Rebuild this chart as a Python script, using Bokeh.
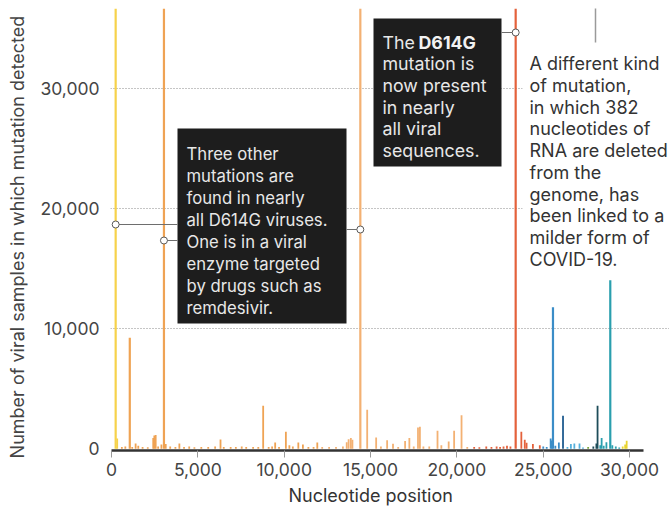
from bokeh.plotting import figure
from bokeh.models import FixedTicker, NumeralTickFormatter, ColumnDataSource, Range1d, Title
from bokeh.core.properties import value
from bokeh.embed import file_html
from bokeh.resources import INLINE

# ---- data ----
positions = [241, 330, 600, 800, 1059, 1200, 1397, 1550, 1800, 2100, 2416, 2480, 2558, 2700, 2891,
             3037, 3140, 3400, 3700, 3930, 4200, 4500, 4800, 5200, 5600, 6000, 6312, 6500, 6900,
             7200, 7540, 7800, 8200, 8500, 8782, 9100, 9300, 9477, 9700, 10097, 10300, 10500,
             10818, 11083, 11400, 11700, 11916, 12200, 12600, 13000, 13400, 13620, 13730, 13860,
             13950, 14408, 14805, 15324, 15600, 15960, 16300, 16600, 17000, 17247, 17500, 17747,
             17858, 18060, 18400, 18877, 19100, 19524, 19839, 20268, 20600, 21000, 21300, 21700,
             22000, 22300, 22500, 22700, 22900, 23100, 23403, 23731, 23929, 24034, 24400, 24800,
             25000, 25200, 25429, 25500, 25563, 25700, 25904, 26144, 26400, 26600, 26800, 27100,
             27300, 27600, 27900, 28077, 28144, 28300, 28380, 28500, 28657, 28881, 29000, 29200,
             29400, 29600, 29742, 29830]
counts = [36700, 850, 150, 200, 9250, 150, 450, 250, 150, 120, 900, 1100, 1150, 200, 350,
          36700, 400, 200, 150, 450, 150, 200, 120, 150, 150, 200, 780, 150, 150,
          150, 200, 150, 150, 150, 3580, 150, 200, 520, 150, 1420, 300, 200,
          520, 350, 150, 150, 520, 150, 150, 150, 200, 550, 800, 900,
          750, 36700, 3250, 950, 200, 720, 420, 150, 640, 890, 200, 1780,
          1830, 200, 200, 1500, 300, 610, 1500, 2800, 150, 150, 120, 200,
          150, 200, 150, 200, 250, 200, 36700, 1420, 750, 500, 400, 300,
          200, 150, 850, 700, 11800, 250, 530, 2750, 150, 400, 450, 450,
          100, 150, 200, 450, 3580, 300, 900, 250, 550, 14050, 300, 200,
          100, 200, 350, 670]
x_ticks = [0, 5000, 10000, 15000, 20000, 25000, 30000]
y_ticks = [0, 10000, 20000, 30000]
y_grid = [10000, 20000, 30000]
highlight_pos = [241, 3037, 14408, 23403]


def color_for(pos):
    if pos < 500:
        return "#f6d24a"
    if pos < 12000:
        return "#efa354"
    if pos < 21000:
        return "#f3b173"
    if pos < 25000:
        return "#e4613b"
    if pos < 26100:
        return "#3b8dc7"
    if pos < 26200:
        return "#1f5c8f"
    if pos < 27400:
        return "#56b0dc"
    if pos < 27800:
        return "#7aa63c"
    if pos < 28300:
        return "#1e4d5a"
    if pos < 29500:
        return "#2a9fae"
    return "#e9d430"


colors = [color_for(p) for p in positions]
widths = [2.2 if c > 5000 else 1.8 for c in counts]
src = ColumnDataSource(dict(x=positions, y0=[0] * len(positions), y1=counts, color=colors, w=widths))

# ---- layout (page pixels == canvas pixels) ----
W, H = 669, 510
FL, FR, FT, FB = 110, 669, 8, 450   # frame edges
X_START, X_END = -58, 32310
Y_START, Y_END = -142, 36700


def dx(px):
    return X_START + (px - FL) * (X_END - X_START) / (FR - FL)


def dy(py):
    return Y_END - (py - FT) * (Y_END - Y_START) / (FB - FT)


p = figure(width=W, height=H, output_backend="svg", toolbar_location=None,
           x_range=Range1d(X_START, X_END), y_range=Range1d(Y_START, Y_END),
           min_border_left=FL, min_border_right=W - FR, min_border_top=FT,
           min_border_bottom=H - FB)
p.outline_line_color = None
p.background_fill_color = "white"
p.border_fill_color = "white"

FONT = "Inter"

# axes
p.xaxis.ticker = FixedTicker(ticks=x_ticks)
p.xaxis.formatter = NumeralTickFormatter(format="0,0")
p.xaxis.bounds = (0, 30800)
p.xaxis.axis_line_color = "#333333"
p.xaxis.axis_line_width = 2.5
p.xaxis.major_tick_line_color = "#9a9a9a"
p.xaxis.major_tick_in = 0
p.xaxis.major_tick_out = 7
p.xaxis.minor_tick_line_color = None
p.xaxis.major_label_text_font = FONT
p.xaxis.major_label_text_font_size = "17.5px"
p.xaxis.major_label_text_color = "#444444"
p.xaxis.major_label_standoff = 5

p.yaxis.ticker = FixedTicker(ticks=y_ticks)
p.yaxis.formatter = NumeralTickFormatter(format="0,0")
p.yaxis.axis_line_color = None
p.yaxis.major_tick_line_color = None
p.yaxis.minor_tick_line_color = None
p.yaxis.major_tick_out = 0
p.yaxis.major_tick_in = 0
p.yaxis.major_label_text_font = FONT
p.yaxis.major_label_text_font_size = "17.5px"
p.yaxis.major_label_text_color = "#444444"
p.yaxis.major_label_standoff = 11
p.yaxis.axis_label = "Number of viral samples in which mutation detected\u00a0\u00a0\u00a0"
p.yaxis.axis_label_text_font = FONT
p.yaxis.axis_label_text_font_size = "18px"
p.yaxis.axis_label_text_font_style = "normal"
p.yaxis.axis_label_text_color = "#444444"
p.yaxis.axis_label_standoff = 9

p.add_layout(Title(text="Nucleotide position", align="left", offset=288 - FL,
                   text_font=FONT, text_font_size="18px", text_font_style="normal",
                   text_color="#333333", standoff=8), "below")

p.xgrid.grid_line_color = None
p.ygrid.ticker = FixedTicker(ticks=y_grid)
p.ygrid.grid_line_color = "#8a8a8a"
p.ygrid.grid_line_dash = "1 2"
p.ygrid.grid_line_width = 1

# white backing behind the right-hand note
p.quad(left=[dx(522)], right=[dx(672)], top=[dy(42)], bottom=[dy(268)],
       fill_color="white", line_color=None)

# bars
p.segment(x0="x", y0="y0", x1="x", y1="y1", source=src, line_color="color",
          line_width="w", line_cap="butt")

# boxes
p.quad(left=[dx(177), dx(373)], right=[dx(346), dx(501)], top=[dy(128), dy(18)],
       bottom=[dy(323), dy(166)], fill_color="#1d1d1d", line_color=None)

# connectors
cx0 = [dx(115), dx(163), dx(346), dx(501)]
cx1 = [dx(177), dx(177), dx(360), dx(516)]
cy = [dy(224), dy(240), dy(229), dy(32)]
p.segment(x0=cx0, y0=cy, x1=cx1, y1=cy, line_color="#6e6e6e", line_width=1)
p.segment(x0=[dx(595)], y0=[dy(6)], x1=[dx(595)], y1=[dy(42)], line_color="#9a9a9a", line_width=1.5)
p.scatter(x=highlight_pos, y=cy, marker="circle", size=7, fill_color="white",
          line_color="#5a5a5a", line_width=1)

# texts
box1 = ["Three other", "mutations are", "found in nearly", "all D614G viruses.",
        "One is in a viral", "enzyme targeted", "by drugs such as", "remdesivir."]
b1y = [153.3, 175.3, 197.4, 219.5, 241.6, 263.7, 285.8, 307.9]
p.text(x=[dx(186)] * len(box1), y=[dy(v) for v in b1y], text=box1,
       text_font=value(FONT), text_font_size="16.7px", text_color="#e8e8e8",
       text_baseline="alphabetic")

box2 = ["The", "mutation is", "now present", "in nearly", "all viral", "sequences."]
b2y = [41.7, 63.3, 85.0, 106.7, 128.3, 150.0]
p.text(x=[dx(382)] * len(box2), y=[dy(v) for v in b2y], text=box2,
       text_font=value(FONT), text_font_size="17.8px", text_color="#e8e8e8",
       text_baseline="alphabetic")
p.text(x=[dx(418)], y=[dy(41.7)], text=["D614G"], text_font=value(FONT),
       text_font_size="17.8px", text_font_style="bold", text_color="#f2f2f2",
       text_baseline="alphabetic")

note = ["A different kind", "of mutation,", "in which 382", "nucleotides of",
        "RNA are deleted", "from the", "genome, has", "been linked to a",
        "milder form of", "COVID-19."]
ny = [63.3, 85.0, 106.7, 128.4, 150.1, 171.8, 193.5, 215.2, 236.9, 258.6]
p.text(x=[dx(529)] * len(note), y=[dy(v) for v in ny], text=note,
       text_font=value(FONT), text_font_size="18px", text_color="#333333",
       text_baseline="alphabetic")

open("out.html", "w").write(file_html(p, INLINE))
